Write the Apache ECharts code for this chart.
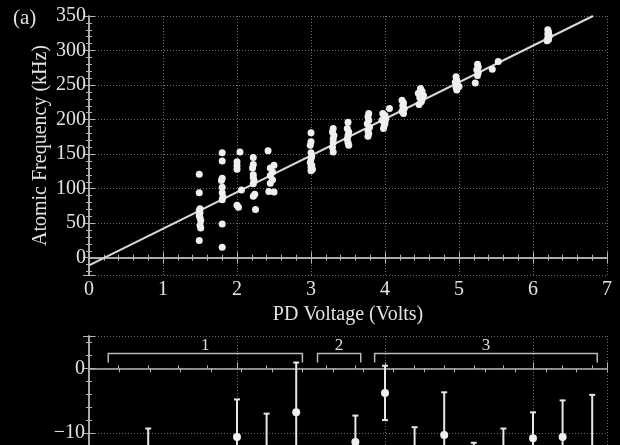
<!DOCTYPE html>
<html>
<head>
<meta charset="utf-8">
<script src="https://cdn.jsdelivr.net/npm/echarts@6/dist/echarts.min.js"></script>
<style>
html,body{margin:0;padding:0;background:#000;}
#chart{width:620px;height:445px;}
</style>
</head>
<body>
<div id="chart"></div>
<script>
// ---- Panel (a): atomic frequency vs PD voltage ----
const pdVoltage = [
  1.49,1.49,1.50,1.49,1.50,1.49,1.50,1.51,1.50,1.51,1.49,
  1.80,1.80,1.80,1.79,1.80,1.80,1.81,1.80,1.80,1.80,
  2.04,2.00,2.00,2.00,2.06,2.00,2.02,
  2.22,2.22,2.21,2.22,2.22,2.23,2.22,2.24,2.22,2.25,
  2.42,2.50,2.45,2.48,2.45,2.48,2.45,2.43,2.50,
  3.00,3.00,2.99,3.00,3.01,3.00,2.99,3.01,3.00,3.02,3.00,
  3.30,3.29,3.31,3.30,3.30,3.29,3.30,
  3.50,3.49,3.51,3.50,3.49,3.50,3.51,
  3.78,3.77,3.78,3.76,3.79,3.77,3.78,3.77,
  4.06,3.97,4.00,3.99,4.01,3.96,4.00,3.99,3.98,
  4.23,4.25,4.24,4.26,4.23,4.25,
  4.48,4.50,4.45,4.52,4.47,4.50,4.49,4.46,
  4.96,4.97,4.95,4.98,4.96,4.97,5.00,
  5.25,5.26,5.24,5.26,5.25,5.22,5.45,5.53,
  6.20,6.21,6.20,6.22,6.20,6.21,6.19
];
const atomicFreq = [
  121,94,71,68,65,61,58,54,47,43,25,
  152,140,115,112,102,94,88,84,49,15,
  153,139,133,128,98,76,73,
  145,135,130,120,116,112,107,92,89,70,
  155,134,130,124,119,113,108,96,95,
  181,168,163,152,147,143,138,134,131,128,126,
  187,182,177,172,167,160,153,
  196,187,182,177,172,167,163,
  209,204,199,194,189,184,180,176,
  216,209,206,204,201,199,195,192,187,
  228,224,220,216,212,209,
  245,241,238,235,232,229,226,222,
  262,257,254,250,247,243,248,
  280,276,272,268,264,253,273,284,
  330,327,324,321,318,316,314
];
const fitLineX = [0, 6.81];
const fitLineY = [-11, 350];

// ---- Panel (b): residuals with error bars ----
const residIndex = [1,2,3,4,5,6,7,8,9,10,11,12,13,14,15,16,17];
const residValue = [-18,-15,-17,-18,-10.6,-13,-6.8,-17,-11.4,-3.8,-14,-10.3,-16,-14,-10.8,-10.6,-13];
const residError = [5,5.7,5,5,5.8,6,7.7,5,4.1,4.2,4.9,6.6,4.5,4.7,4.0,5.65,8.9];
const groupLabels = ['1','2','3'];
const groupStart = [0.65, 7.72, 9.65];
const groupEnd = [7.21, 9.18, 17.17];

const FONT = 'Liberation Serif';
const TXT = '#e2e2e2';
const AX = '#b4b4b4';
const GRIDC = '#6a6a6a';

const scatterData = pdVoltage.map((x,i)=>[x, atomicFreq[i]]);
const lineData = fitLineX.map((x,i)=>[x, fitLineY[i]]);
const errData = residIndex.map((x,i)=>[x, residValue[i]-residError[i], residValue[i]+residError[i]]);
const ptData = residIndex.map((x,i)=>[x, residValue[i]]);
const grpData = groupLabels.map((l,i)=>[groupStart[i], groupEnd[i], l]);

const axisLineStyle = {show:true, lineStyle:{color:AX, width:1.5}};
const tickIn = {show:true, inside:true, length:6, lineStyle:{color:AX, width:1}};
const minorIn = (n)=>({show:true, splitNumber:n, length:3, lineStyle:{color:AX, width:1}});
const dotted = {show:true, lineStyle:{color:GRIDC, type:[1,2], width:1}};
const minus = v => String(v).replace('-', '\u2212');

const chart = echarts.init(document.getElementById('chart'), null, {renderer:'canvas'});
chart.setOption({
  backgroundColor:'#000',
  animation:false,
  title:{text:'(a)', left:8, top:3, textStyle:{color:TXT, fontFamily:FONT, fontSize:21, fontWeight:'normal'}},
  grid:[
    {left:89, top:16, width:518, height:259, outerBoundsMode:'none', containLabel:false},
    {left:89, top:336, width:518, height:161.75, outerBoundsMode:'none', containLabel:false}
  ],
  xAxis:[
    {gridIndex:0, type:'value', position:'bottom', min:0, max:7, interval:1,
     name:'PD Voltage (Volts)', nameLocation:'middle', nameGap:30, nameMoveOverlap:false,
     nameTextStyle:{color:TXT, fontFamily:FONT, fontSize:20},
     axisLine:axisLineStyle, axisTick:tickIn, minorTick:minorIn(5),
     axisLabel:{color:TXT, fontFamily:FONT, fontSize:20, margin:5},
     splitLine:dotted},
    {gridIndex:0, type:'value', position:'top', min:0, max:7, interval:1,
     axisLine:axisLineStyle, axisTick:tickIn, minorTick:minorIn(5),
     axisLabel:{show:false}, splitLine:{show:false}},
    {gridIndex:1, type:'value', position:'bottom', min:0, max:17.5, interval:5,
     axisLine:axisLineStyle, axisTick:tickIn, minorTick:minorIn(5),
     axisLabel:{show:false}, splitLine:dotted},
    {gridIndex:1, type:'value', position:'top', min:0, max:17, interval:1,
     axisLine:{show:false}, axisTick:{show:true, inside:true, length:4, lineStyle:{color:AX}},
     axisLabel:{show:false}, splitLine:{show:false}}
  ],
  yAxis:[
    {gridIndex:0, type:'value', position:'left', min:-25, max:350, splitNumber:7,
     name:'Atomic Frequency (kHz)', nameLocation:'middle', nameGap:38, nameMoveOverlap:false,
     nameTextStyle:{color:TXT, fontFamily:FONT, fontSize:20},
     axisLine:axisLineStyle, axisTick:tickIn, minorTick:minorIn(5),
     axisLabel:{color:TXT, fontFamily:FONT, fontSize:20, margin:3,
       formatter:v=> (v % 50 === 0 ? minus(v) : '')},
     splitLine:dotted},
    {gridIndex:0, type:'value', position:'right', min:-25, max:350, splitNumber:7,
     axisLine:axisLineStyle, axisTick:tickIn, minorTick:minorIn(5),
     axisLabel:{show:false}, splitLine:{show:false}},
    {gridIndex:1, type:'value', position:'left', min:-20, max:5, interval:10,
     axisLine:axisLineStyle, axisTick:tickIn, minorTick:minorIn(5),
     axisLabel:{color:TXT, fontFamily:FONT, fontSize:20, margin:4,
       formatter:v=> (v % 10 === 0 ? minus(v) : '')},
     splitLine:dotted},
    {gridIndex:1, type:'value', position:'right', min:-20, max:5, interval:10,
     axisLine:axisLineStyle, axisTick:tickIn, minorTick:minorIn(5),
     axisLabel:{show:false}, splitLine:{show:false}}
  ],
  series:[
    {type:'line', xAxisIndex:0, yAxisIndex:0, data:lineData, symbol:'none',
     lineStyle:{color:'#d8d8d8', width:2}, z:3},
    {type:'scatter', xAxisIndex:0, yAxisIndex:0, data:scatterData, symbolSize:7,
     itemStyle:{color:'#efefef', opacity:1}, z:4},
    {type:'custom', xAxisIndex:2, yAxisIndex:2, data:errData,
     renderItem:(params, api)=>{
       const x = api.value(0);
       const p1 = api.coord([x, api.value(2)]);
       const p2 = api.coord([x, api.value(1)]);
       const st = {stroke:'#e6e6e6', lineWidth:2};
       return {type:'group', children:[
         {type:'line', shape:{x1:p1[0], y1:p1[1], x2:p2[0], y2:p2[1]}, style:st},
         {type:'line', shape:{x1:p1[0]-3, y1:p1[1], x2:p1[0]+3, y2:p1[1]}, style:st},
         {type:'line', shape:{x1:p2[0]-3, y1:p2[1], x2:p2[0]+3, y2:p2[1]}, style:st}
       ]};
     }, z:3},
    {type:'scatter', xAxisIndex:2, yAxisIndex:2, data:ptData, symbolSize:8,
     itemStyle:{color:'#efefef', opacity:1}, z:4},
    {type:'custom', xAxisIndex:2, yAxisIndex:2, data:grpData,
     renderItem:(params, api)=>{
       const a = api.coord([api.value(0), 2.3]);
       const b = api.coord([api.value(1), 2.3]);
       const drop = api.coord([0, 0.9])[1];
       const lab = api.coord([0, 3.6])[1];
       return {type:'group', children:[
         {type:'polyline', shape:{points:[[a[0],drop],[a[0],a[1]],[b[0],b[1]],[b[0],drop]]},
          style:{stroke:'#b8b8b8', lineWidth:1.5, fill:null}},
         {type:'text', x:(a[0]+b[0])/2, y:lab,
          style:{text:grpData[params.dataIndex][2], fill:'#d8dde8', font:'17px "Liberation Serif"',
                 align:'center', verticalAlign:'middle'}}
       ]};
     }, z:5}
  ]
});
</script>
</body>
</html>
